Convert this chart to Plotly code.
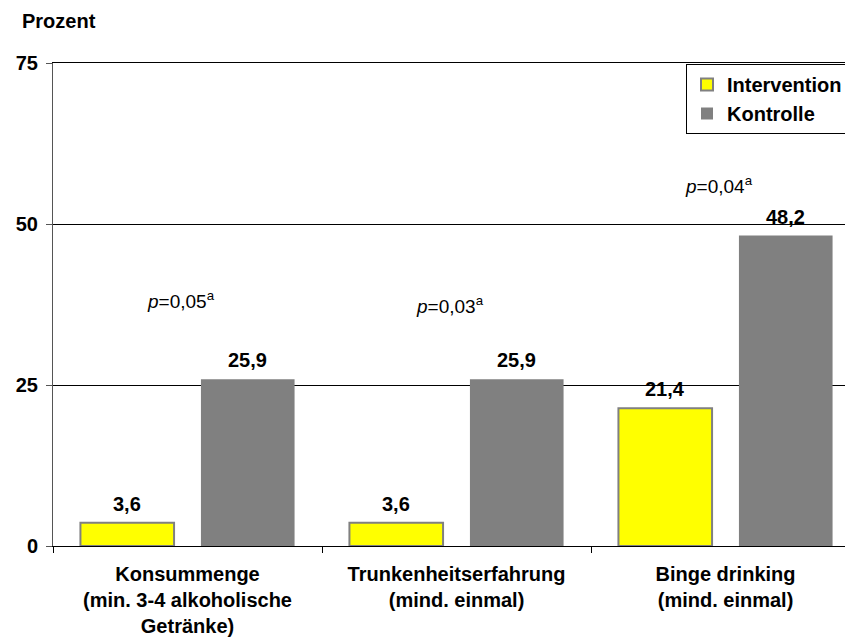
import plotly.graph_objects as go

categories = ["Konsummenge<br>(min. 3-4 alkoholische<br>Getränke)",
              "Trunkenheitserfahrung<br>(mind. einmal)",
              "Binge drinking<br>(mind. einmal)"]
intervention = [3.6, 3.6, 21.4]
kontrolle = [25.9, 25.9, 48.2]
p_labels = ["<i>p</i>=0,05<sup>a</sup>", "<i>p</i>=0,03<sup>a</sup>", "<i>p</i>=0,04<sup>a</sup>"]
p_heights = [38.2, 37.4, 56.1]
y_ticks = [0, 25, 50, 75]

FONT = "Liberation Sans, Arial, sans-serif"
BARGAP = 0.104
GROUPGAP = 0.223

# page body has an 8px margin; screen positions below are in the reference's pixels
OFF = 8
W, H = 853, 637
PLOT_L, PLOT_T, PLOT_B = 53, 63, 546
L = PLOT_L - OFF
T = PLOT_T - OFF
B = H + OFF - PLOT_B
R = 0
pw, ph = W - L - R, H - T - B
CAT_PX = 269


def px_to_paper_x(px):
    return (px - PLOT_L) / pw


def px_to_paper_y(py):
    return (PLOT_B - py) / ph


fig = go.Figure()
fig.add_trace(go.Bar(name="Intervention", x=categories, y=intervention,
                     marker=dict(color="#FFFF00", line=dict(color="#808080", width=2))))
fig.add_trace(go.Bar(name="Kontrolle", x=categories, y=kontrolle,
                     marker=dict(color="#808080", line=dict(color="#808080", width=0))))

ann = []
slot = (1 - BARGAP) / 2
for i, (a, b) in enumerate(zip(intervention, kontrolle)):
    for v, off in ((a, -slot / 2), (b, slot / 2)):
        ann.append(dict(x=i + off, y=v, xref="x", yref="y", text=f"{v:.1f}".replace(".", ","),
                        showarrow=False, yanchor="bottom", yshift=6,
                        font=dict(family=FONT, size=20, color="black", weight="bold")))
    ann.append(dict(x=i - 0.025, y=p_heights[i], xref="x", yref="y", text=p_labels[i],
                    showarrow=False, font=dict(family=FONT, size=19, color="black")))
ann.append(dict(x=px_to_paper_x(20), y=px_to_paper_y(21), xref="paper", yref="paper",
                text="Prozent", showarrow=False, xanchor="left", yanchor="middle",
                font=dict(family=FONT, size=20, color="black", weight="bold")))

fig.update_layout(
    width=W, height=H,
    margin=dict(l=L, r=R, t=T, b=B, pad=0),
    paper_bgcolor="white", plot_bgcolor="white",
    barmode="group", bargap=BARGAP, bargroupgap=GROUPGAP,
    font=dict(family=FONT, color="black"),
    annotations=ann,
    legend=dict(x=px_to_paper_x(686), y=px_to_paper_y(64), xanchor="left", yanchor="top",
                bordercolor="black", borderwidth=1, bgcolor="white",
                font=dict(family=FONT, size=20, color="black", weight="bold"),
                tracegroupgap=0, itemwidth=30),
    yaxis=dict(range=[0, 75], tickvals=y_ticks, showgrid=True, gridcolor="black", gridwidth=1,
               showline=True, linecolor="#555555", linewidth=1, ticks="outside", ticklen=6,
               tickcolor="#555555", zeroline=False, ticklabelstandoff=4,
               tickfont=dict(family=FONT, size=20, color="black", weight="bold")),
    xaxis=dict(range=[-0.5, -0.5 + pw / CAT_PX], showline=True, mirror=True,
               linecolor="black", linewidth=1,
               ticks="outside", tickson="boundaries", ticklen=6, tickcolor="black",
               ticklabelstandoff=10,
               tickfont=dict(family=FONT, size=20, color="black", weight="bold")),
)

fig.write_html("out.html")
